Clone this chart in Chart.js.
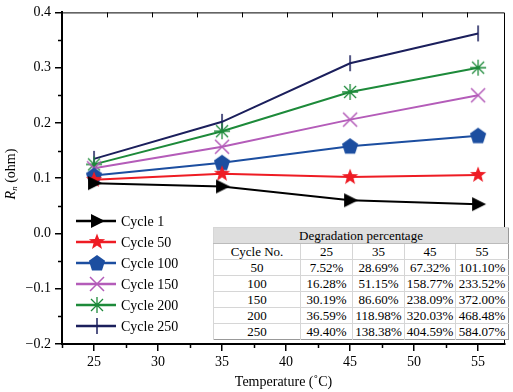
<!DOCTYPE html>
<html>
<head>
<meta charset="utf-8">
<script src="https://cdn.jsdelivr.net/npm/chart.js@4.4.1/dist/chart.umd.min.js"></script>
<style>
  html, body { margin: 0; padding: 0; background: #fff; }
  #wrap { position: relative; width: 513px; height: 392px; }
  #degTable {
    position: absolute; left: 213px; top: 227px; width: 295px;
    border-collapse: collapse; background: #fff;
    font-family: 'Liberation Serif', serif; font-size: 13px; color: #000;
    border: 1px solid #999; table-layout: fixed;
  }
  #degTable td, #degTable th {
    height: 15px; padding: 0; line-height: 15px; text-align: center;
    white-space: nowrap; font-weight: normal; overflow: visible;
    border-left: 1px solid #d6d6d6; border-top: 1px solid #d6d6d6;
  }
  #degTable th.head { background: #dedede; border-bottom: 1px solid #bbb; }
</style>
</head>
<body>
<div id="wrap">
  <canvas id="chart" width="513" height="392"></canvas>
  <table id="degTable"></table>
</div>
<script>
const temps = [25, 35, 45, 55];
const cycleLabels = ['Cycle 1', 'Cycle 50', 'Cycle 100', 'Cycle 150', 'Cycle 200', 'Cycle 250'];
const cycle1 = [0.091, 0.085, 0.060, 0.053];
const cycle50 = [0.097, 0.108, 0.102, 0.106];
const cycle100 = [0.105, 0.128, 0.158, 0.177];
const cycle150 = [0.118, 0.157, 0.206, 0.250];
const cycle200 = [0.125, 0.185, 0.256, 0.300];
const cycle250 = [0.135, 0.202, 0.308, 0.362];
const xTicks = [25, 30, 35, 40, 45, 50, 55];
const yTicks = [-0.2, -0.1, 0.0, 0.1, 0.2, 0.3, 0.4];

const tableTitle = 'Degradation percentage';
const tableCycles = ['50', '100', '150', '200', '250'];
const tableTemps = ['25', '35', '45', '55'];
const deg50 = ['7.52%', '28.69%', '67.32%', '101.10%'];
const deg100 = ['16.28%', '51.15%', '158.77%', '233.52%'];
const deg150 = ['30.19%', '86.60%', '238.09%', '372.00%'];
const deg200 = ['36.59%', '118.98%', '320.03%', '468.48%'];
const deg250 = ['49.40%', '138.38%', '404.59%', '584.07%'];

const colors = ['#000000', '#ee1c24', '#1c4ea0', '#b45cb9', '#1d8a3a', '#1b1f5c'];
const FONT = "'Liberation Serif', 'DejaVu Serif', serif";

// build the table
(function () {
  const t = document.getElementById('degTable');
  const widths = [87, 52, 52, 51, 53];
  let html = '<colgroup>' + widths.map(w => '<col style="width:' + w + 'px">').join('') + '</colgroup>';
  html += '<tr><th class="head" colspan="5">' + tableTitle + '</th></tr>';
  html += '<tr><td>Cycle No.</td>' + tableTemps.map(v => '<td>' + v + '</td>').join('') + '</tr>';
  const rows = [deg50, deg100, deg150, deg200, deg250];
  rows.forEach((r, i) => {
    html += '<tr><td>' + tableCycles[i] + '</td>' + r.map(v => '<td>' + v + '</td>').join('') + '</tr>';
  });
  t.innerHTML = html;
})();

// marker images
function mk(size, draw) {
  const c = document.createElement('canvas');
  c.width = c.height = size;
  const g = c.getContext('2d');
  draw(g, size / 2);
  return c;
}
const markers = [
  mk(20, (g, c) => {
    g.fillStyle = colors[0];
    g.beginPath(); g.moveTo(c - 6, c - 7); g.lineTo(c + 8, c); g.lineTo(c - 6, c + 7); g.closePath(); g.fill();
  }),
  mk(20, (g, c) => {
    g.fillStyle = colors[1];
    g.beginPath();
    for (let i = 0; i < 10; i++) {
      const r = i % 2 === 0 ? 8.5 : 3.6;
      const a = -Math.PI / 2 + i * Math.PI / 5;
      g.lineTo(c + r * Math.cos(a), c + r * Math.sin(a));
    }
    g.closePath(); g.fill();
  }),
  mk(20, (g, c) => {
    g.fillStyle = colors[2];
    g.beginPath();
    for (let i = 0; i < 5; i++) {
      const a = -Math.PI / 2 + i * 2 * Math.PI / 5;
      g.lineTo(c + 8.5 * Math.cos(a), c + 0.5 + 8.5 * Math.sin(a));
    }
    g.closePath(); g.fill();
  }),
  mk(20, (g, c) => {
    g.strokeStyle = colors[3]; g.lineWidth = 1.5;
    g.beginPath();
    g.moveTo(c - 7, c - 7); g.lineTo(c + 7, c + 7);
    g.moveTo(c + 7, c - 7); g.lineTo(c - 7, c + 7);
    g.stroke();
  }),
  mk(20, (g, c) => {
    g.strokeStyle = colors[4]; g.lineWidth = 1.3;
    g.beginPath();
    g.moveTo(c - 8, c); g.lineTo(c + 8, c);
    g.moveTo(c, c - 8); g.lineTo(c, c + 8);
    g.moveTo(c - 6, c - 6); g.lineTo(c + 6, c + 6);
    g.moveTo(c + 6, c - 6); g.lineTo(c - 6, c + 6);
    g.stroke();
  }),
  mk(20, (g, c) => {
    g.strokeStyle = colors[5]; g.lineWidth = 1.5;
    g.beginPath(); g.moveTo(c, c - 8); g.lineTo(c, c + 8); g.stroke();
  })
];

const series = [cycle1, cycle50, cycle100, cycle150, cycle200, cycle250];
const datasets = series.map((vals, i) => ({
  label: cycleLabels[i],
  data: vals.map((v, j) => ({ x: temps[j], y: v })),
  borderColor: colors[i],
  backgroundColor: colors[i],
  borderWidth: 2,
  pointStyle: markers[i],
  pointRadius: 6,
  tension: 0,
  order: i
}));

const decor = {
  id: 'decor',
  afterDraw(chart) {
    const ctx = chart.ctx;
    const a = chart.chartArea;
    const xs = chart.scales.x, ys = chart.scales.y;
    ctx.save();
    // top and right frame
    ctx.strokeStyle = '#000';
    ctx.lineWidth = 1;
    ctx.beginPath();
    ctx.moveTo(a.left, a.top + 0.5); ctx.lineTo(a.right - 0.5, a.top + 0.5); ctx.lineTo(a.right - 0.5, a.bottom);
    ctx.stroke();
    // minor ticks
    ctx.lineWidth = 1.5;
    ctx.beginPath();
    for (let v = -0.15; v < 0.4; v += 0.1) {
      const y = Math.round(ys.getPixelForValue(v)) + 0.5;
      ctx.moveTo(a.left - 4, y); ctx.lineTo(a.left, y);
    }
    for (let v = 22.5; v <= 57; v += 5) {
      const x = Math.round(xs.getPixelForValue(v)) + 0.5;
      ctx.moveTo(x, a.bottom); ctx.lineTo(x, a.bottom + 4);
    }
    ctx.stroke();
    // top inward ticks
    ctx.lineWidth = 1;
    ctx.beginPath();
    for (let x = a.left + 45; x < a.right - 5; x += 45) {
      ctx.moveTo(x + 0.5, a.top); ctx.lineTo(x + 0.5, a.top + 5);
    }
    ctx.stroke();
    // axis titles
    ctx.fillStyle = '#000';
    ctx.textBaseline = 'middle';
    ctx.font = '14px ' + FONT;
    ctx.textAlign = 'center';
    ctx.fillText('Temperature (\u02DAC)', (a.left + a.right) / 2, 382);
    ctx.translate(11, 174);
    ctx.rotate(-Math.PI / 2);
    ctx.textAlign = 'left';
    const iR = 'italic 14px ' + FONT, iN = 'italic 9px ' + FONT, rest = '14px ' + FONT;
    ctx.font = iR; const wR = ctx.measureText('R').width;
    ctx.font = iN; const wN = ctx.measureText('n').width;
    ctx.font = rest; const wRest = ctx.measureText(' (ohm)').width;
    let x0 = -(wR + wN + wRest) / 2;
    ctx.font = iR; ctx.fillText('R', x0, 0); x0 += wR;
    ctx.font = iN; ctx.fillText('n', x0, 4); x0 += wN;
    ctx.font = rest; ctx.fillText(' (ohm)', x0, 0);
    ctx.restore();
    // legend
    ctx.save();
    ctx.font = '14px ' + FONT;
    ctx.textBaseline = 'middle';
    ctx.textAlign = 'left';
    chart.data.datasets.forEach((ds, i) => {
      const y = 221 + i * 21;
      ctx.strokeStyle = ds.borderColor;
      ctx.lineWidth = 2.5;
      ctx.beginPath(); ctx.moveTo(76, y); ctx.lineTo(116, y); ctx.stroke();
      const m = markers[i];
      ctx.drawImage(m, 97 - m.width / 2, y - m.height / 2);
      ctx.fillStyle = '#000';
      ctx.fillText(ds.label, 121, y + 1);
    });
    ctx.restore();
  }
};

new Chart(document.getElementById('chart'), {
  type: 'line',
  data: { datasets },
  options: {
    responsive: false,
    animation: false,
    layout: { padding: { top: 8, right: 5, left: 0, bottom: 0 } },
    plugins: { legend: { display: false }, tooltip: { enabled: false } },
    scales: {
      x: {
        type: 'linear',
        min: 22.5,
        max: 57.1,
        afterBuildTicks: (s) => { s.ticks = xTicks.map(v => ({ value: v })); },
        afterFit: (s) => { s.height = 48; },
        border: { color: '#000', width: 2 },
        grid: { drawOnChartArea: false, drawTicks: true, tickLength: 7, color: '#000', lineWidth: 1.5 },
        ticks: { color: '#000', font: { family: FONT, size: 14 }, padding: 3, maxRotation: 0,
          callback: (v) => String(v) }
      },
      y: {
        type: 'linear',
        min: -0.2,
        max: 0.4,
        afterBuildTicks: (s) => { s.ticks = yTicks.map(v => ({ value: v })); },
        afterFit: (s) => { s.width = 62; },
        border: { color: '#000', width: 2 },
        grid: { drawOnChartArea: false, drawTicks: true, tickLength: 7, color: '#000', lineWidth: 1.5 },
        ticks: { color: '#000', font: { family: FONT, size: 14 }, padding: 4,
          callback: (v) => v.toFixed(1).replace('-', '\u2212') }
      }
    }
  },
  plugins: [decor]
});
</script>
</body>
</html>
